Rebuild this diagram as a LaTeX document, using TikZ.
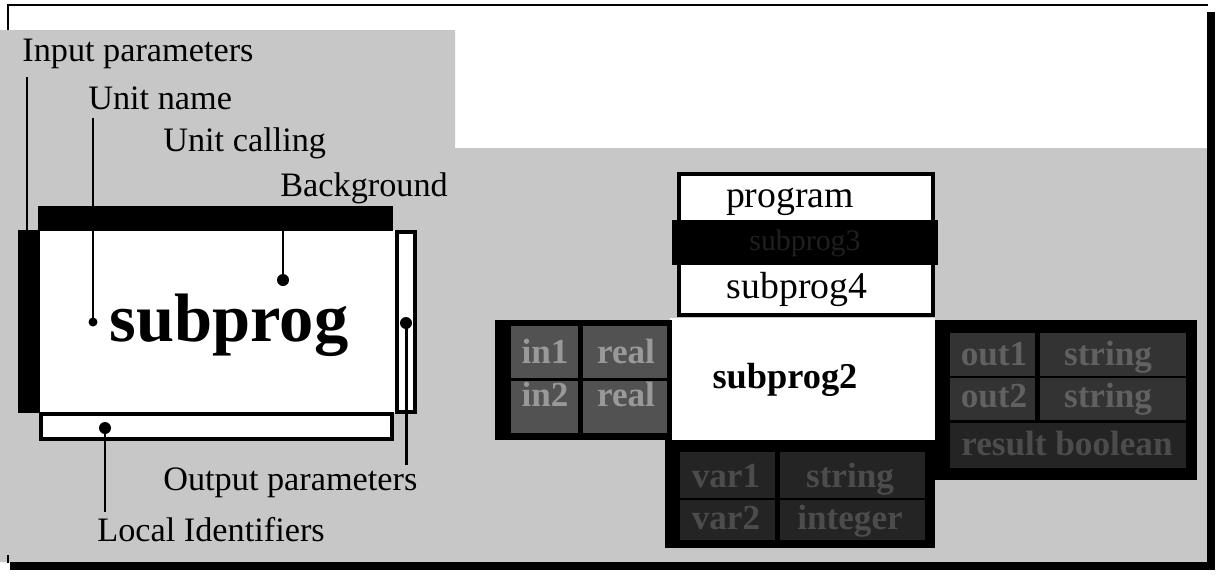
\documentclass[tikz,border=0pt]{standalone}
\usepackage{fontspec}
\setmainfont{Liberation Serif}
\begin{document}
\begin{tikzpicture}[x=0.02cm,y=-0.02cm,
  label/.style={inner sep=0pt,font=\fontsize{19.5}{22}\selectfont},
  lead/.style={line width=1.7pt},
  dotmark/.style={fill=black},
  boxline/.style={draw=black,line width=2.6pt},
  panel/.style={fill=black},
  cellA/.style={fill=black!68},
  cellB/.style={fill=black!80},
  cellC/.style={fill=black!86},
  celltxt/.style={inner sep=0pt,anchor=base,font=\fontsize{20}{22}\selectfont\bfseries},
  celltxtA/.style={celltxt,text=black!40},
  celltxtB/.style={celltxt,text=black!62},
  celltxtC/.style={celltxt,text=black!70},
  unitname/.style={inner sep=0pt,anchor=base,font=\fontsize{21.5}{24}\selectfont}]
\useasboundingbox (0,0) rectangle (1216,578);
\fill[white] (0,0) rectangle (1216,578);

% sheet: grey ground, thin frame and drop shadow
\fill[black!22] (0,30) -- (455,30) -- (455,148) -- (1207,148) -- (1207,562) -- (0,562) -- cycle;
\draw[line width=1.2pt] (8,30) -- (8,5) -- (1208,5);
\draw[line width=1pt] (8,555) -- (8,563);
\fill[black] (1207,12) rectangle (1215,570);
\fill[black] (10,562) rectangle (1215,570);

% ---------------- legend of a unit ----------------
\fill[white] (40,230) rectangle (395,413);
\fill[black] (18,230) rectangle (40,413);
\fill[black] (38,206) rectangle (393,231);
\draw[boxline,fill=white] (397,232) rectangle (415,412);
\draw[boxline,fill=white] (41,414) rectangle (392,439);

\node[inner sep=0pt,font=\fontsize{39}{42}\selectfont\bfseries] (subprog) at (229,325) {subprog};

\node[label,anchor=west] (ip) at (22,54) {Input parameters};
\node[label,anchor=west] (un) at (88,98) {Unit name};
\node[label,anchor=west] (uc) at (163,143) {Unit calling};
\node[label,anchor=west] (bg) at (280,188) {Background};
\node[label,anchor=west] (op) at (163,483) {Output parameters};
\node[label,anchor=west] (li) at (97,530) {Local Identifiers};

\coordinate (inbar) at (27,230);
\coordinate (undot) at (93,322);
\coordinate (bgdot) at (283,280);
\coordinate (opdot) at (406,323);
\coordinate (lidot) at (105,428);

\draw[lead] (ip.south -| inbar) ++(0,8) -- (inbar);
\draw[lead] (un.south -| undot) ++(0,8) -- (undot);
\draw[lead] (bg.south -| bgdot) ++(0,5) -- (bgdot);
\draw[lead] (opdot) -- ([yshift=0.05cm]op.north -| opdot);
\draw[lead] (lidot) -- ([yshift=0.1cm]li.north -| lidot);

\fill[dotmark] (undot) circle (4.5);
\fill[dotmark] (bgdot) circle (6);
\fill[dotmark] (opdot) circle (6);
\fill[dotmark] (lidot) circle (6);

% ---------------- example: subprog2 ----------------
% calling chain above the unit
\draw[boxline,fill=white] (679,174) rectangle (933,315);
\fill[black] (672,220) rectangle (938,265);
\node[unitname] (prog) at (790,207) {program};
\node[inner sep=0pt,anchor=base,text=black!88,font=\fontsize{17}{20}\selectfont] (sp3) at (805,250) {subprog3};
\node[unitname] (sp4) at (797,298) {subprog4};

% unit body
\fill[white] (670,318) rectangle (935,440);
\node[inner sep=0pt,anchor=base,font=\fontsize{20.7}{24}\selectfont\bfseries] (sp2) at (785,388) {subprog2};

% input parameters
\fill[panel] (495,320) rectangle (672,440);
\fill[cellA] (511,326) rectangle (578,378);
\fill[cellA] (583,326) rectangle (667,378);
\fill[cellA] (511,381) rectangle (578,433);
\fill[cellA] (583,381) rectangle (667,433);
\node[celltxtA] (in1) at (545,363) {in1};
\node[celltxtA] (r1) at (626,363) {real};
\node[celltxtA] (in2) at (545,406) {in2};
\node[celltxtA] (r2) at (626,406) {real};

% output parameters
\fill[panel] (935,320) rectangle (1197,480);
\fill[cellB] (950,333) rectangle (1035,376);
\fill[cellB] (1040,333) rectangle (1186,376);
\fill[cellB] (950,378) rectangle (1035,420);
\fill[cellB] (1040,378) rectangle (1186,420);
\fill[cellC] (950,423) rectangle (1186,468);
\node[celltxtB] (o1) at (994,365) {out1};
\node[celltxtB] (s1) at (1108,365) {string};
\node[celltxtB] (o2) at (994,407) {out2};
\node[celltxtB] (s2) at (1108,407) {string};
\node[celltxtC] (res) at (1067,455) {result boolean};

% local identifiers
\fill[panel] (665,440) rectangle (935,548);
\fill[cellC] (680,452) rectangle (775,498);
\fill[cellC] (780,452) rectangle (925,498);
\fill[cellC] (680,500) rectangle (775,540);
\fill[cellC] (780,500) rectangle (925,540);
\node[celltxtC] (v1) at (726,487) {var1};
\node[celltxtC] (vs) at (850,487) {string};
\node[celltxtC] (v2) at (726,529) {var2};
\node[celltxtC] (vi) at (850,529) {integer};
\end{tikzpicture}
\end{document}
